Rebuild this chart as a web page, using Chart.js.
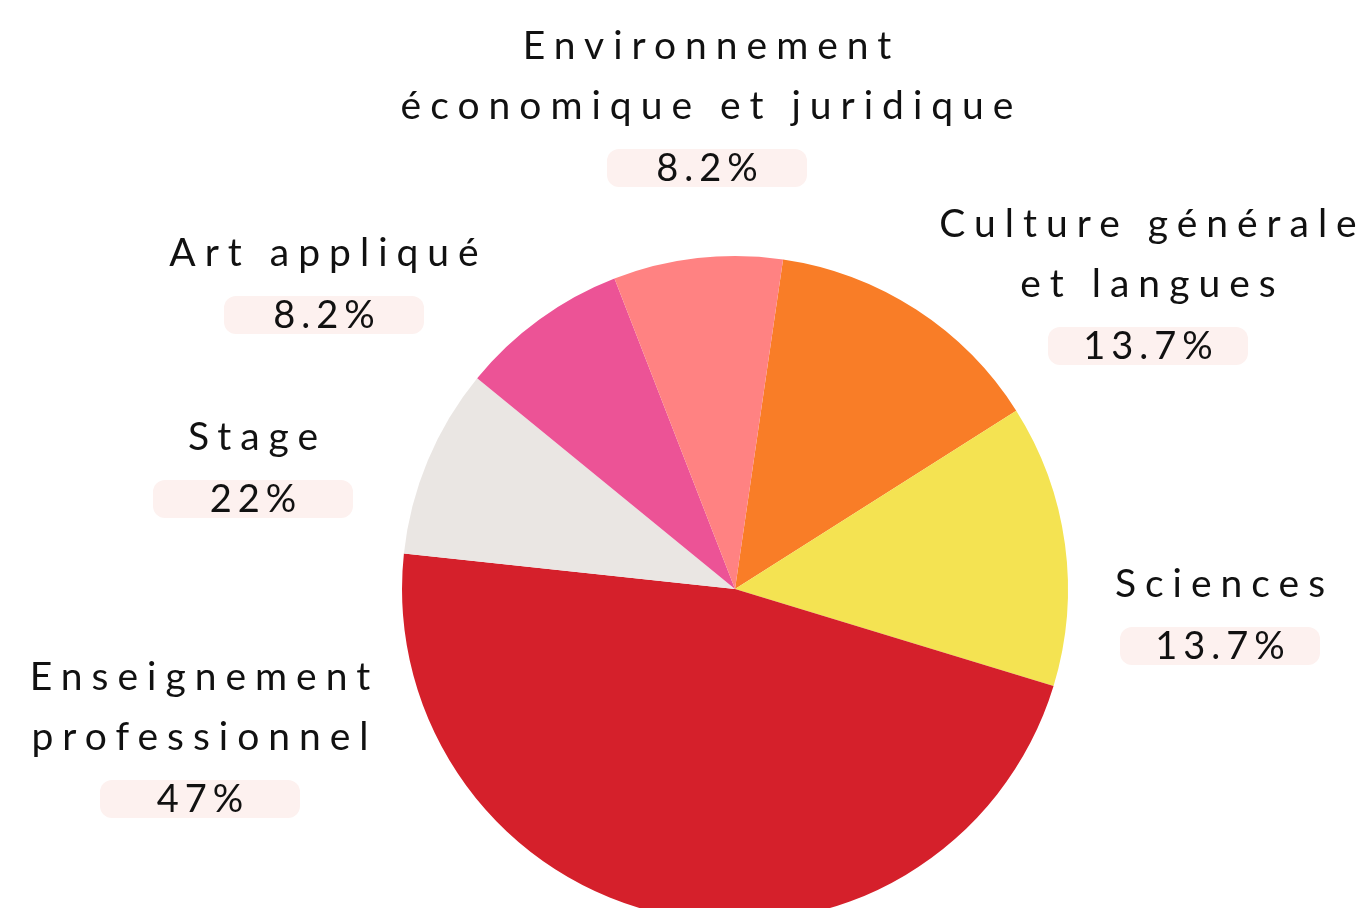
<!DOCTYPE html>
<html lang="fr">
<head>
<meta charset="utf-8">
<title>Répartition des enseignements</title>
<script src="https://cdn.jsdelivr.net/npm/chart.js@4"></script>
<style>
    html, body { margin: 0; padding: 0; background: #ffffff; overflow: hidden; }
    #zone { width: 1366px; height: 930px; }
</style>
</head>
<body>
<div id="zone"><canvas id="chartRepartition"></canvas></div>
<script>
const categories = [
    ["Culture générale", "et langues"],
    ["Sciences"],
    ["Enseignement", "professionnel"],
    ["Stage"],
    ["Art appliqué"],
    ["Environnement", "économique et juridique"]
];
const parts = [13.7, 13.7, 47, 9.2, 8.2, 8.2];
const etiquettesPct = ["13.7%", "13.7%", "47%", "22%", "8.2%", "8.2%"];
const couleurs = ["#F97D27", "#F4E352", "#D5202B", "#EAE6E3", "#EC5396", "#FF8282"];

// placement des textes (centre x, y de la première ligne)
const ancres = [
    [1148, 224], [1220, 584], [200, 677], [253, 437], [324, 253], [707, 46]
];

const etiquettesPlugin = {
    id: "etiquettes",
    afterDraw(chart) {
        const ctx = chart.ctx;
        const espace = 9;
        const espacePct = 6;
        ctx.save();
        ctx.textAlign = "center";
        ctx.textBaseline = "middle";
        categories.forEach((lignes, i) => {
            const [x, y] = ancres[i];
            ctx.letterSpacing = espace + "px";
            ctx.font = "400 39px Lato, 'Open Sans', sans-serif";
            ctx.fillStyle = "#111111";
            lignes.forEach((ligne, j) => {
                ctx.fillText(ligne, x + espace / 2, y + j * 60);
            });
            const yPct = y + lignes.length * 60 + 2;
            ctx.fillStyle = "#FDF1EF";
            ctx.beginPath();
            ctx.roundRect(x - 100, yPct - 19, 200, 38, 12);
            ctx.fill();
            ctx.fillStyle = "#111111";
            ctx.letterSpacing = espacePct + "px";
            ctx.font = "400 38px Lato, 'Open Sans', sans-serif";
            ctx.fillText(etiquettesPct[i], x + espacePct / 2, yPct + 1);
        });
        ctx.restore();
    }
};

new Chart(document.getElementById("chartRepartition"), {
    type: "pie",
    data: {
        labels: categories.map(l => l.join(" ")),
        datasets: [{
            data: parts,
            backgroundColor: couleurs,
            borderWidth: 0
        }]
    },
    options: {
        responsive: true,
        maintainAspectRatio: false,
        animation: false,
        rotation: 8.3,
        layout: {
            padding: { left: 402, right: 298, top: 256, bottom: 8 }
        },
        plugins: {
            legend: { display: false },
            tooltip: { enabled: false }
        }
    },
    plugins: [etiquettesPlugin]
});
</script>
</body>
</html>
